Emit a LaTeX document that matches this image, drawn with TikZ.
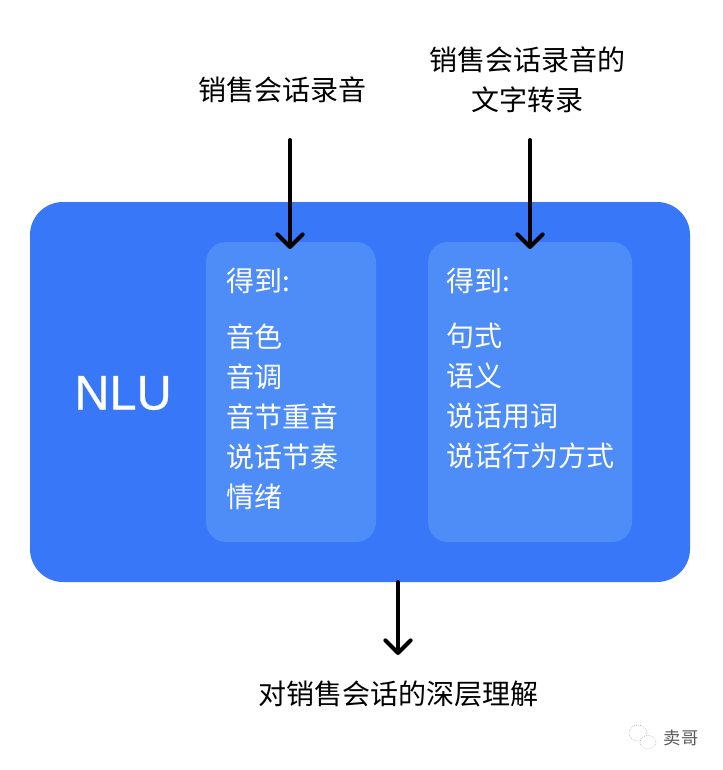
\documentclass[tikz,border=0pt]{standalone}
\usepackage{fontspec}
\setmainfont{Noto Sans CJK SC}
\newfontfamily\latinf[RawFeature={embolden=0.6}]{Liberation Sans}
\usetikzlibrary{arrows.meta}
\definecolor{outerblue}{HTML}{3878F8}
\definecolor{innerblue}{HTML}{4E8CF8}
\tikzset{
 px/.style={x=0.75pt,y=-0.75pt},
 lbl/.style={font=\fontsize{21pt}{30pt}\selectfont,text=black,align=center,inner sep=0pt},
 inner/.style={font=\fontsize{21pt}{30pt}\selectfont,text=white,align=left,inner sep=0pt,anchor=north west},
 arr/.style={line width=3pt,line cap=round,-{Straight Barb[length=9.5pt,width=19pt,line width=3pt,round]}},
 bubble/.style={draw=black!30,line width=0.5pt,densely dotted,fill=white},
}
\begin{document}
\begin{tikzpicture}[px]
\useasboundingbox (0,0) rectangle (722,770);
\fill[white] (0,0) rectangle (722,770);
\fill[outerblue,rounded corners=24.75pt] (30,202) rectangle (690,582);
\fill[innerblue,rounded corners=15pt] (206,242) rectangle (376,542);
\fill[innerblue,rounded corners=15pt] (428,242) rectangle (632,542);
\node[font=\latinf\fontsize{36.5pt}{40pt}\selectfont,text=white,inner sep=0pt] (nlu) at (123,393) {NLU};
\node[lbl] (a) at (282,90) {销售会话录音};
\node[lbl] (b) at (527,80) {销售会话录音的\\文字转录};
\node[lbl] (c) at (398,694) {对销售会话的深层理解};
\node[inner] (l1) at (226,268) {得到:};
\node[inner] (l2) at (226,323) {音色\\音调\\音节重音\\说话节奏\\情绪};
\node[inner] (r1) at (446,268) {得到:};
\node[inner] (r2) at (446,323) {句式\\语义\\说话用词\\说话行为方式};
\node[font=\fontsize{13pt}{15pt}\selectfont,text=black!65,inner sep=0pt] (wm) at (681,738) {卖哥};
\draw[bubble] (638,733) ellipse (9 and 8);
\draw[bubble] (648,742) ellipse (8 and 6.5);
\coordinate (a0) at (290,140); \coordinate (a1) at (290,249);
\coordinate (b0) at (530,140); \coordinate (b1) at (530,249);
\coordinate (c0) at (398,582); \coordinate (c1) at (398,655);
\draw[arr] (a0) -- (a1);
\draw[arr] (b0) -- (b1);
\draw[arr] (c0) -- (c1);
\end{tikzpicture}
\end{document}
